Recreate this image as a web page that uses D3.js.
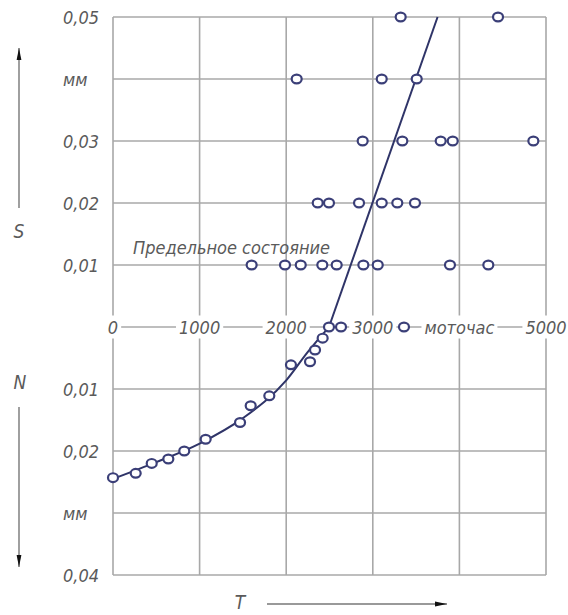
<!DOCTYPE html>
<html>
<head>
<meta charset="utf-8">
<script src="https://cdn.jsdelivr.net/npm/d3@7"></script>
<style>
  html, body { margin: 0; padding: 0; background: #fff; }
  svg text { font-family: "DejaVu Sans", sans-serif; font-style: italic; font-stretch: condensed; fill: #5a5a5a; }
</style>
</head>
<body>
<div id="chart"></div>
<script>
// деления осей
const tTicks = [0, 1000, 2000, 3000, 4000, 5000];
const tTickLabels = ["0", "1000", "2000", "3000", "моточас", "5000"];
const sTicks = [0.01, 0.02, 0.03, 0.04, 0.05];
const sTickLabels = ["0,01", "0,02", "0,03", "мм", "0,05"];
const nTicks = [0.01, 0.02, 0.03, 0.04];
const nTickLabels = ["0,01", "0,02", "мм", "0,04"];

// точки износа S (верхняя часть)
const sPointT = [3322, 4446, 2121, 3103, 3507, 2883, 3341, 3784, 3923, 4854,
                 2364, 2494, 2841, 3103, 3283, 3487,
                 1601, 1986, 2168, 2417, 2583, 2891, 3057, 3891, 4334,
                 2633, 3360];
const sPointS = [0.05, 0.05, 0.04, 0.04, 0.04, 0.03, 0.03, 0.03, 0.03, 0.03,
                 0.02, 0.02, 0.02, 0.02, 0.02, 0.02,
                 0.01, 0.01, 0.01, 0.01, 0.01, 0.01, 0.01, 0.01, 0.01,
                 0, 0];

// точки N (нижняя часть)
const nPointT = [0, 262, 447, 639, 823, 1070, 1467, 1590, 1805, 2055, 2275, 2333, 2421, 2494];
const nPointN = [0.0243, 0.0236, 0.0220, 0.0213, 0.0200, 0.0181, 0.0154, 0.0127, 0.0111, 0.0061, 0.0056, 0.0037, 0.0018, 0];

// сглаженная кривая N(T)
const nCurveT = [0, 500, 1000, 1500, 2000, 2250, 2494];
const nCurveN = [0.0245, 0.0218, 0.0188, 0.0147, 0.0086, 0.0040, 0];

// прямая S(T)
const sLineT = [2494, 3748];
const sLineS = [0, 0.05];

const W = 568, H = 615;
const svg = d3.select("#chart").append("svg").attr("width", W).attr("height", H);

const x = d3.scaleLinear().domain([0, 5000]).range([113, 546]);
const yS = d3.scaleLinear().domain([0, 0.05]).range([327, 17]);
const yN = d3.scaleLinear().domain([0, 0.04]).range([327, 575]);

const gridColor = "#a8a8a8";
const ink = "#2f3468";

// сетка
const grid = svg.append("g");
grid.selectAll(".vl").data(tTicks).join("line")
  .attr("x1", d => x(d)).attr("x2", d => x(d))
  .attr("y1", yS(0.05)).attr("y2", yN(0.04))
  .attr("stroke", gridColor).attr("stroke-width", 1.6);
grid.selectAll(".hs").data([0].concat(sTicks)).join("line")
  .attr("x1", x(0)).attr("x2", x(5000))
  .attr("y1", d => yS(d)).attr("y2", d => yS(d))
  .attr("stroke", gridColor).attr("stroke-width", 1.6);
grid.selectAll(".hn").data(nTicks).join("line")
  .attr("x1", x(0)).attr("x2", x(5000))
  .attr("y1", d => yN(d)).attr("y2", d => yN(d))
  .attr("stroke", gridColor).attr("stroke-width", 1.6);

// подписи по оси T (на нулевой линии, с белым фоном)
const tLab = svg.append("g");
tTicks.forEach((t, i) => {
  const txt = tLab.append("text")
    .attr("x", x(t)).attr("y", yS(0))
    .attr("text-anchor", "middle").attr("dominant-baseline", "central")
    .style("font-size", "18px")
    .text(tTickLabels[i]);
  const bb = txt.node().getBBox();
  tLab.insert("rect", "text")
    .attr("x", bb.x - 3).attr("y", bb.y - 1)
    .attr("width", bb.width + 6).attr("height", bb.height + 2)
    .attr("fill", "#fff");
});

// подписи по вертикали
svg.append("g").selectAll("text").data(sTicks).join("text")
  .attr("x", 63).attr("y", d => yS(d))
  .attr("dominant-baseline", "central")
  .style("font-size", "18px")
  .text((d, i) => sTickLabels[i]);
svg.append("g").selectAll("text").data(nTicks).join("text")
  .attr("x", 63).attr("y", d => yN(d))
  .attr("dominant-baseline", "central")
  .style("font-size", "18px")
  .text((d, i) => nTickLabels[i]);

// кривая и прямая
svg.append("path")
  .datum(nCurveT.map((t, i) => [t, nCurveN[i]]))
  .attr("d", d3.line().x(d => x(d[0])).y(d => yN(d[1])).curve(d3.curveMonotoneX))
  .attr("fill", "none").attr("stroke", ink).attr("stroke-width", 2);
svg.append("path")
  .datum(sLineT.map((t, i) => [t, sLineS[i]]))
  .attr("d", d3.line().x(d => x(d[0])).y(d => yS(d[1])))
  .attr("fill", "none").attr("stroke", ink).attr("stroke-width", 2);

// точки
const pts = sPointT.map((t, i) => [x(t), yS(sPointS[i])])
  .concat(nPointT.map((t, i) => [x(t), yN(nPointN[i])]));
svg.append("g").selectAll("ellipse").data(pts).join("ellipse")
  .attr("cx", d => d[0]).attr("cy", d => d[1])
  .attr("rx", 5).attr("ry", 4.4)
  .attr("fill", "#fff").attr("stroke", "#3b3f78").attr("stroke-width", 2.2);

// надпись
svg.append("text")
  .attr("x", 133).attr("y", 254)
  .style("font-size", "18px")
  .text("Предельное состояние");

// стрелки слева и снизу
const defs = svg.append("defs");
defs.append("marker").attr("id", "arr")
  .attr("viewBox", "0 0 12 6").attr("refX", 12).attr("refY", 3)
  .attr("markerWidth", 12).attr("markerHeight", 6)
  .attr("markerUnits", "userSpaceOnUse").attr("orient", "auto")
  .append("path").attr("d", "M0,0.6 L12,3 L0,5.4 Z").attr("fill", "#111");

svg.append("line").attr("x1", 19).attr("x2", 19).attr("y1", 208).attr("y2", 48)
  .attr("stroke", "#777").attr("stroke-width", 1.4).attr("marker-end", "url(#arr)");
svg.append("line").attr("x1", 19).attr("x2", 19).attr("y1", 407).attr("y2", 567)
  .attr("stroke", "#777").attr("stroke-width", 1.4).attr("marker-end", "url(#arr)");
svg.append("line").attr("x1", 267).attr("x2", 447).attr("y1", 604).attr("y2", 604)
  .attr("stroke", "#777").attr("stroke-width", 1.4).attr("marker-end", "url(#arr)");

svg.append("text").attr("x", 19).attr("y", 231)
  .attr("text-anchor", "middle").attr("dominant-baseline", "central")
  .style("font-size", "19px").text("S");
svg.append("text").attr("x", 20).attr("y", 382)
  .attr("text-anchor", "middle").attr("dominant-baseline", "central")
  .style("font-size", "19px").text("N");
svg.append("text").attr("x", 240).attr("y", 602)
  .attr("text-anchor", "middle").attr("dominant-baseline", "central")
  .style("font-size", "19px").text("T");
</script>
</body>
</html>
